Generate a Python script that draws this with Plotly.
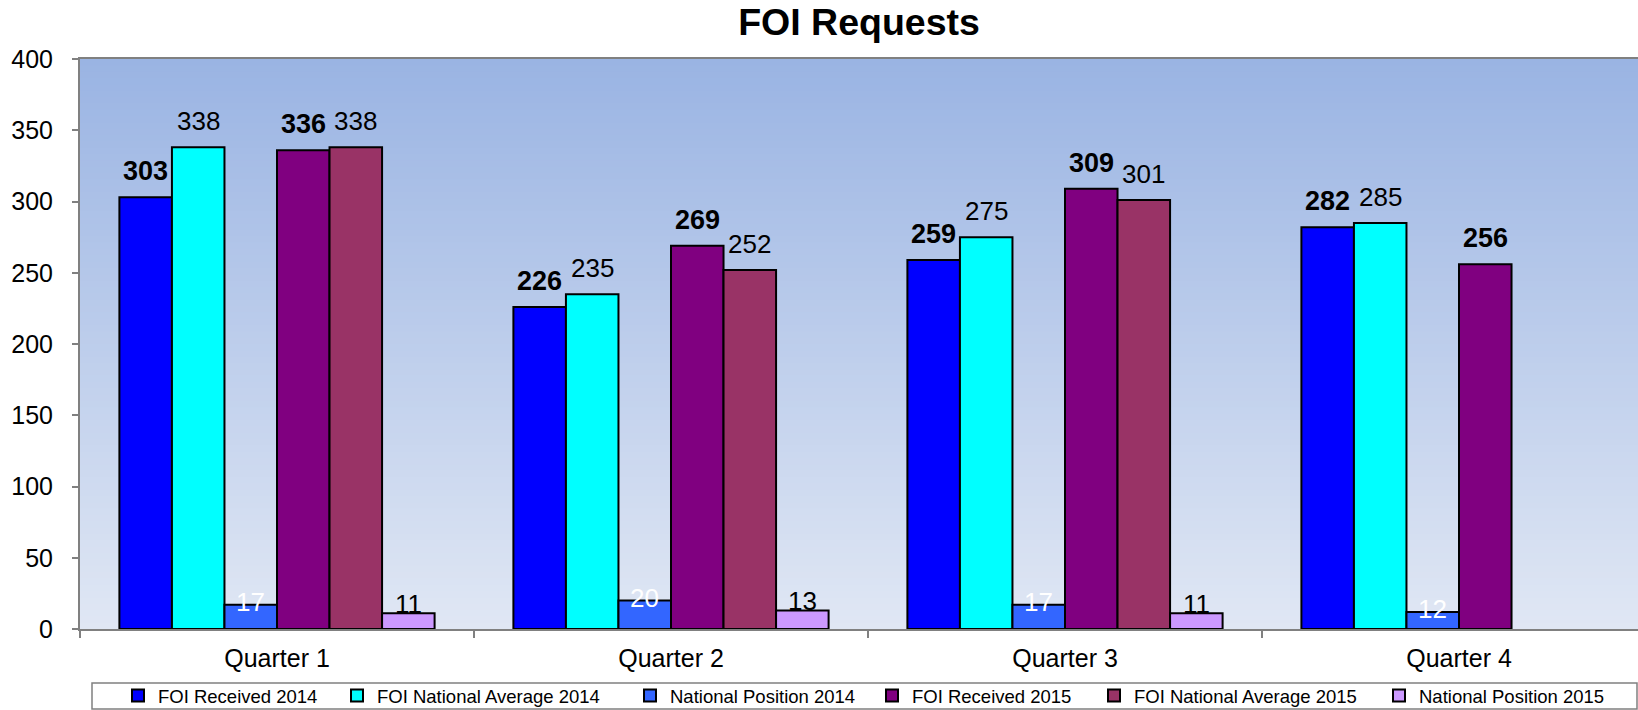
import plotly.graph_objects as go

categories = ["Quarter 1", "Quarter 2", "Quarter 3", "Quarter 4"]
series_names = ["FOI Received 2014", "FOI National Average 2014", "National Position 2014",
                "FOI Received 2015", "FOI National Average 2015", "National Position 2015"]
received_2014 = [303, 226, 259, 282]
nat_avg_2014 = [338, 235, 275, 285]
nat_pos_2014 = [17, 20, 17, 12]
received_2015 = [336, 269, 309, 256]
nat_avg_2015 = [338, 252, 301, None]
nat_pos_2015 = [11, 13, 11, None]

series_values = [received_2014, nat_avg_2014, nat_pos_2014, received_2015, nat_avg_2015, nat_pos_2015]
colors = ["#0000FF", "#00FFFF", "#3366FF", "#800080", "#993366", "#CC99FF"]
bold = [True, False, False, True, False, False]
text_colors = ["black", "black", "white", "black", "black", "black"]
label_yshift = [9, 9, -14, 9, 9, -8]
legend_text_x = [154, 373, 666, 908, 1130, 1415]  # pixel x where each legend label starts

FONT = "Liberation Sans, Arial, sans-serif"
VIEW_W = 1638
W, H = 1656, 710   # plot area runs past the visible right edge, as in the original
ML, MR, MT, MB = 80, 0, 59, 81
PW = W - ML - MR
PH = H - MT - MB
BARGAP = 0.20
bar_w = PW / len(categories) * (1 - BARGAP) / len(series_names)

fig = go.Figure()
legends = {}
annotations = []
for k, (name, vals, col, b, tc) in enumerate(zip(series_names, series_values, colors, bold, text_colors)):
    lg = "legend" if k == 0 else "legend%d" % (k + 1)
    fig.add_trace(go.Bar(
        name=name, x=categories, y=vals, legend=lg,
        marker=dict(color=col, line=dict(color="black", width=2)),
        hoverinfo="x+y+name",
    ))
    legends[lg] = dict(
        x=(legend_text_x[k] - 36 - ML) / PW, xanchor="left",
        y=-(696 - (MT + PH)) / PH, yanchor="middle",
        orientation="h", bgcolor="rgba(0,0,0,0)", borderwidth=0,
        itemwidth=30, itemclick=False,
        font=dict(family=FONT, size=18.5, color="black"),
    )
    for cat, v in zip(categories, vals):
        if v is None:
            continue
        annotations.append(dict(
            x=cat, y=v, xref="x", yref="y", showarrow=False,
            text=("<b>%d</b>" % v) if b else "%d" % v,
            xanchor="center", yanchor="bottom",
            xshift=(k - (len(series_names) - 1) / 2) * bar_w, yshift=label_yshift[k],
            font=dict(family=FONT, size=27 if b else 26, color=tc),
        ))

# gradient background stripes
n = 90
top = (0x9A, 0xB4, 0xE3)
bot = (0xE0, 0xE7, 0xF4)
shapes = []
for i in range(n):
    t = i / (n - 1)
    c = tuple(round(top[j] + (bot[j] - top[j]) * t) for j in range(3))
    y1 = 1 - i / n
    y0 = max(0, 1 - (i + 1.6) / n)
    shapes.append(dict(type="rect", xref="paper", yref="paper", x0=0, x1=1, y0=y0, y1=y1,
                       fillcolor="rgb(%d,%d,%d)" % c, line=dict(width=0), layer="below"))
# legend box
shapes.append(dict(type="rect", xref="paper", yref="paper",
                   x0=(92 - ML) / PW, x1=(VIEW_W - 1 - ML) / PW,
                   y0=-(683 - (MT + PH)) / PH, y1=-(709 - (MT + PH)) / PH,
                   line=dict(color="#808080", width=1.5), fillcolor="white", layer="below"))

fig.update_layout(
    width=W, height=H,
    margin=dict(l=ML, r=MR, t=MT, b=MB, autoexpand=False),
    paper_bgcolor="white",
    plot_bgcolor="rgba(0,0,0,0)",
    barmode="group",
    bargap=BARGAP,
    bargroupgap=0,
    shapes=shapes,
    annotations=annotations,
    title=dict(text="<b>FOI Requests</b>", x=859 / W, xanchor="center", xref="container",
               y=1 - 22 / H, yanchor="middle",
               font=dict(family=FONT, size=37.5, color="black")),
    font=dict(family=FONT, color="black"),
    showlegend=True,
    **legends,
)
fig.update_yaxes(range=[0, 400], dtick=50, showgrid=False, ticks="outside", ticklen=6,
                 tickcolor="#808080", tickwidth=1.5, showline=True, linecolor="#808080",
                 linewidth=2, mirror=True, tickfont=dict(family=FONT, size=25),
                 ticklabelstandoff=14, zeroline=False)
fig.update_xaxes(showgrid=False, ticks="outside", tickson="boundaries", ticklen=7,
                 tickcolor="#808080", tickwidth=1.5, showline=True, linecolor="#808080",
                 linewidth=2, mirror=True, tickfont=dict(family=FONT, size=25),
                 ticklabelstandoff=6)

fig.write_html("out.html", config={"displayModeBar": False},
               post_script="document.body.style.margin='0';document.body.style.overflow='hidden';")
